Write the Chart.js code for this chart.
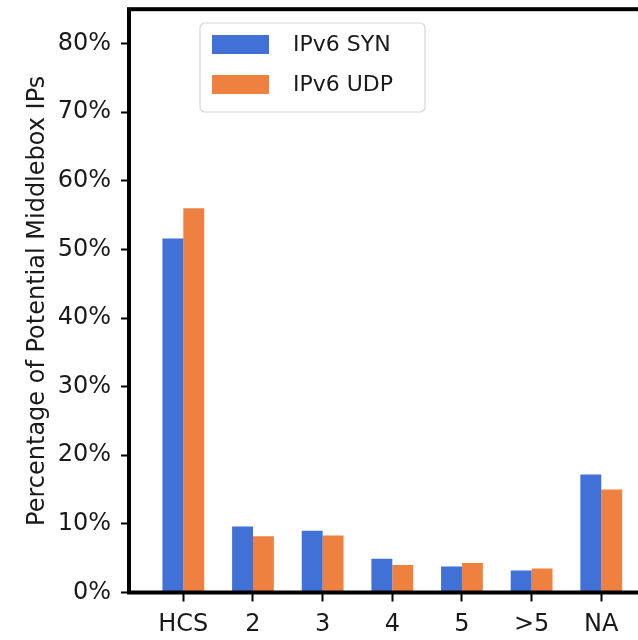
<!DOCTYPE html>
<html>
<head>
<meta charset="utf-8">
<script src="https://cdn.jsdelivr.net/npm/chart.js@4"></script>
<style>
  html, body { margin: 0; padding: 0; background: #fff; overflow: hidden; }
  #wrap { width: 638px; height: 640px; overflow: hidden; position: relative; }
  #box { width: 700px; height: 640px; position: absolute; left: 0; top: 0; }
</style>
</head>
<body>
<div id="wrap"><div id="box"><canvas id="chart"></canvas></div></div>
<script>
// Hop-count categories and share of potential middlebox IPs (%)
const categories = ['HCS', '2', '3', '4', '5', '>5', 'NA'];
const synValues = [51.6, 9.6, 9.0, 4.9, 3.8, 3.2, 17.2];
const udpValues = [56.0, 8.2, 8.3, 4.0, 4.3, 3.5, 15.0];
const seriesNames = ['IPv6 SYN', 'IPv6 UDP'];
const seriesColors = ['rgb(65,113,214)', 'rgb(238,128,64)'];
const yTicks = [0, 10, 20, 30, 40, 50, 60, 70, 80];

const FONT = 'DejaVu Sans';
const toPoints = vals => vals.map((v, i) => ({ x: i, y: v }));

// Frame around the plot area, drawn over the bars like axis spines
const framePlugin = {
  id: 'frame',
  afterDatasetsDraw(chart) {
    const { ctx, chartArea: a } = chart;
    ctx.save();
    ctx.strokeStyle = '#000';
    ctx.lineWidth = 4;
    ctx.strokeRect(a.left, a.top, a.right - a.left, a.bottom - a.top);
    ctx.restore();
  }
};

// Boxed legend inside the plot, upper left
const legendPlugin = {
  id: 'boxLegend',
  afterDraw(chart) {
    const { ctx } = chart;
    ctx.save();
    const x = 200, y = 23, w = 225, h = 89, r = 5;
    ctx.beginPath();
    ctx.moveTo(x + r, y);
    ctx.arcTo(x + w, y, x + w, y + h, r);
    ctx.arcTo(x + w, y + h, x, y + h, r);
    ctx.arcTo(x, y + h, x, y, r);
    ctx.arcTo(x, y, x + w, y, r);
    ctx.closePath();
    ctx.fillStyle = 'rgba(255,255,255,0.85)';
    ctx.fill();
    ctx.strokeStyle = '#d6d6d6';
    ctx.lineWidth = 1.2;
    ctx.stroke();
    ctx.font = '22px "' + FONT + '"';
    ctx.textBaseline = 'middle';
    chart.data.datasets.forEach((ds, i) => {
      const ry = 35 + i * 40;
      ctx.fillStyle = ds.backgroundColor;
      ctx.fillRect(212, ry, 57, 19);
      ctx.fillStyle = '#1a1a1a';
      ctx.fillText(ds.label, 293, ry + 10);
    });
    ctx.restore();
  }
};

new Chart(document.getElementById('chart'), {
  type: 'bar',
  data: {
    datasets: [
      { label: seriesNames[0], data: toPoints(synValues), backgroundColor: seriesColors[0] },
      { label: seriesNames[1], data: toPoints(udpValues), backgroundColor: seriesColors[1] }
    ]
  },
  options: {
    responsive: true,
    maintainAspectRatio: false,
    animation: false,
    devicePixelRatio: 1,
    categoryPercentage: 0.6,
    barPercentage: 1.0,
    layout: { padding: { top: 9.2, left: 0, right: 43, bottom: 0 } },
    plugins: { legend: { display: false }, tooltip: { enabled: false } },
    scales: {
      x: {
        type: 'linear',
        offset: false,
        min: -0.78,
        max: 6.8,
        afterFit(scale) {
          scale.height = 47.5;
          scale.paddingLeft = 0;
          scale.paddingRight = 0;
        },
        afterBuildTicks(scale) {
          scale.ticks = categories.map((c, i) => ({ value: i }));
        },
        ticks: {
          callback: v => categories[v],
          autoSkip: false,
          maxRotation: 0,
          padding: 9,
          color: '#1a1a1a',
          font: { family: FONT, size: 24 }
        },
        grid: {
          display: true,
          offset: false,
          drawOnChartArea: false,
          drawTicks: true,
          tickLength: 9,
          tickWidth: 2,
          tickColor: '#000'
        },
        border: { display: false }
      },
      y: {
        min: 0,
        max: 85,
        afterFit(scale) {
          scale.width = 129;
          scale.paddingTop = 0;
          scale.paddingBottom = 0;
        },
        afterBuildTicks(scale) {
          scale.ticks = yTicks.map(v => ({ value: v }));
        },
        ticks: {
          callback: v => v + '%',
          padding: 10,
          color: '#1a1a1a',
          font: { family: FONT, size: 24 }
        },
        grid: {
          display: true,
          drawOnChartArea: false,
          drawTicks: true,
          tickLength: 8,
          tickWidth: 2,
          tickColor: '#000'
        },
        border: { display: false },
        title: {
          display: true,
          text: 'Percentage of Potential Middlebox IPs',
          color: '#1a1a1a',
          font: { family: FONT, size: 24 },
          padding: { top: 23, bottom: 0 }
        }
      }
    }
  },
  plugins: [framePlugin, legendPlugin]
});
</script>
</body>
</html>
